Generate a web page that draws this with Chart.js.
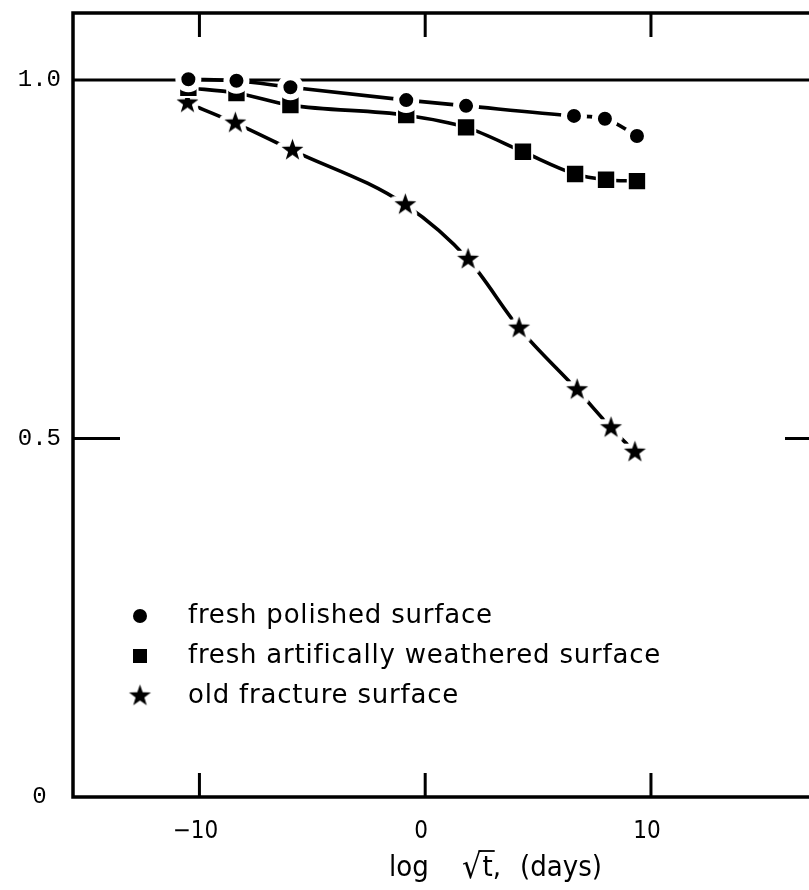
<!DOCTYPE html>
<html>
<head>
<meta charset="utf-8">
<script src="https://cdn.jsdelivr.net/npm/chart.js@4/dist/chart.umd.min.js"></script>
<style>
    html, body { margin: 0; padding: 0; background: #fff; }
    #wrap { width: 809px; height: 890px; }
</style>
</head>
<body>
<div id="wrap"><canvas id="chart" width="809" height="890"></canvas></div>
<script>
(function () {
    "use strict";

    const seriesLabels = ["fresh polished surface", "fresh artifically weathered surface", "old fracture surface"];

    const polishedX = [-10.49, -8.36, -5.97, -0.84, 1.81, 6.59, 7.96, 9.38];
    const polishedY = [1.001, 0.999, 0.990, 0.972, 0.964, 0.950, 0.946, 0.922];

    const weatheredX = [-10.49, -8.36, -5.97, -0.84, 1.81, 4.33, 6.64, 8.01, 9.38];
    const weatheredY = [0.989, 0.982, 0.965, 0.951, 0.934, 0.900, 0.869, 0.861, 0.859];

    const fractureX = [-10.53, -8.41, -5.88, -0.88, 1.90, 4.16, 6.73, 8.23, 9.29];
    const fractureY = [0.968, 0.940, 0.902, 0.826, 0.750, 0.654, 0.568, 0.515, 0.481];

    const xTicks = [-10, 0, 10];
    const xTickLabels = ["\u221210", "0", "10"];
    const yTicks = [0, 0.5, 1];
    const yTickLabels = ["0", "0.5", "1.0"];
    const xTitleParts = ["log", "\u221A", "t,", "(days)"];

    const X_MIN = -15.6, X_MAX = 17.0, Y_MIN = 0, Y_MAX = 1.0935;
    const INK = "#000";

    const pts = (xs, ys) => xs.map((x, i) => ({ x, y: ys[i] }));

    // filled five-point star, with a white halo so the curve stops short of it
    function makeStar(outer, inner, halo) {
        const size = Math.ceil((outer + halo) * 2 + 2);
        const c = document.createElement("canvas");
        c.width = c.height = size;
        const g = c.getContext("2d");
        g.translate(size / 2, size / 2);
        g.beginPath();
        for (let i = 0; i < 10; i++) {
            const r = i % 2 ? inner : outer;
            const a = -Math.PI / 2 + i * Math.PI / 5;
            g.lineTo(r * Math.cos(a), r * Math.sin(a));
        }
        g.closePath();
        if (halo) { g.lineWidth = halo * 2; g.lineJoin = "round"; g.strokeStyle = "#fff"; g.stroke(); }
        g.fillStyle = INK;
        g.fill();
        return c;
    }
    const starImg = makeStar(11.5, 4.6, 5);

    const line = { borderColor: INK, borderWidth: 3.6, cubicInterpolationMode: "monotone", pointBackgroundColor: INK, pointBorderColor: "#fff", showLine: true, fill: false };

    const framePlugin = {
        id: "frame",
        beforeDatasetsDraw(chart) {
            const { ctx, chartArea: a, scales: { x, y } } = chart;
            ctx.save();
            ctx.strokeStyle = INK;
            ctx.lineCap = "butt";
            // reference line at 1.0 and the short 0.5 ticks
            ctx.lineWidth = 3;
            const y1 = y.getPixelForValue(1), y5 = y.getPixelForValue(0.5);
            ctx.beginPath();
            ctx.moveTo(a.left, y1); ctx.lineTo(a.right, y1);
            ctx.moveTo(a.left, y5); ctx.lineTo(a.left + 47, y5);
            ctx.moveTo(a.right - 24, y5); ctx.lineTo(a.right, y5);
            ctx.stroke();
            // x ticks, top and bottom
            ctx.beginPath();
            xTicks.forEach((v) => {
                const px = x.getPixelForValue(v);
                ctx.moveTo(px, a.top); ctx.lineTo(px, a.top + 24);
                ctx.moveTo(px, a.bottom); ctx.lineTo(px, a.bottom - 24);
            });
            ctx.stroke();
            // frame: top, left, bottom
            ctx.lineWidth = 3.5;
            ctx.beginPath();
            ctx.moveTo(a.right, a.top); ctx.lineTo(a.left, a.top); ctx.lineTo(a.left, a.bottom); ctx.lineTo(a.right, a.bottom);
            ctx.stroke();
            ctx.restore();
        },
        afterDraw(chart) {
            const { ctx } = chart;
            ctx.save();
            // legend
            const legendX = 140, textX = 188, rows = [616, 656, 696];
            ctx.fillStyle = INK;
            ctx.strokeStyle = INK;
            ctx.font = '26px "DejaVu Sans", sans-serif';
            ctx.letterSpacing = "0.8px";
            ctx.textBaseline = "middle";
            ctx.textAlign = "left";
            chart.data.datasets.forEach((ds, i) => {
                const cy = rows[i];
                if (ds.pointStyle === "circle") {
                    ctx.beginPath(); ctx.arc(legendX, cy, 7, 0, Math.PI * 2); ctx.fill();
                } else if (ds.pointStyle === "rect") {
                    ctx.fillRect(legendX - 7, cy - 7, 14, 14);
                } else {
                    ctx.drawImage(ds.pointStyle, legendX - ds.pointStyle.width / 2, cy - ds.pointStyle.height / 2);
                }
                ctx.fillText(ds.label, textX, cy);
            });
            ctx.letterSpacing = "0px";
            // axis title; the radical is set larger and gets an overbar
            const fam = '"DejaVu Sans Condensed", "DejaVu Sans", sans-serif';
            const base = 876;
            ctx.textBaseline = "alphabetic";
            ctx.font = "29px " + fam;
            ctx.fillText(xTitleParts[0], 389, base);
            ctx.font = "34px " + fam;
            const rx = 462;
            ctx.fillText(xTitleParts[1], rx, base + 2);
            const wr = ctx.measureText(xTitleParts[1]).width;
            ctx.font = "29px " + fam;
            const tx = rx + wr + 1;
            ctx.fillText(xTitleParts[2], tx, base);
            const wt = ctx.measureText("t").width;
            ctx.fillText(xTitleParts[3], 520, base);
            ctx.lineWidth = 1.8;
            ctx.beginPath();
            ctx.moveTo(rx + wr - 3, base - 25); ctx.lineTo(tx + wt + 2, base - 25);
            ctx.stroke();
            ctx.restore();
        },
    };

    new Chart(document.getElementById("chart"), {
        type: "scatter",
        data: {
            datasets: [
                { ...line, label: seriesLabels[0], data: pts(polishedX, polishedY), pointStyle: "circle", pointRadius: 10, pointBorderWidth: 6 },
                { ...line, label: seriesLabels[1], data: pts(weatheredX, weatheredY), pointStyle: "rect", pointRadius: 13, pointBorderWidth: 2 },
                { ...line, label: seriesLabels[2], data: pts(fractureX, fractureY), pointStyle: starImg, pointRadius: 11 },
            ],
        },
        options: {
            responsive: false,
            animation: false,
            layout: { autoPadding: false, padding: { top: 13, right: 0, bottom: 0, left: 0 } },
            plugins: { legend: { display: false }, tooltip: { enabled: false } },
            scales: {
                x: {
                    type: "linear", min: X_MIN, max: X_MAX,
                    afterBuildTicks: (s) => { s.ticks = xTicks.map((v) => ({ value: v })); },
                    afterFit: (s) => { s.height = 93; s.paddingLeft = 0; s.paddingRight = 0; },
                    grid: { display: false, drawTicks: false }, border: { display: false },
                    ticks: { padding: 20, labelOffset: -4, color: INK, autoSkip: false, maxRotation: 0, font: { family: '"DejaVu Sans Condensed", "DejaVu Sans", sans-serif', size: 24 }, callback: (v, i) => xTickLabels[i] },
                },
                y: {
                    type: "linear", min: Y_MIN, max: Y_MAX,
                    afterBuildTicks: (s) => { s.ticks = yTicks.map((v) => ({ value: v })); },
                    afterFit: (s) => { s.width = 73; s.paddingTop = 0; s.paddingBottom = 0; },
                    grid: { display: false, drawTicks: false }, border: { display: false },
                    ticks: { padding: 12, crossAlign: "center", color: INK, font: { family: '"Liberation Mono", monospace', size: 24 }, callback: (v, i) => yTickLabels[i] },
                },
            },
        },
        plugins: [framePlugin],
    });
})();
</script>
</body>
</html>
